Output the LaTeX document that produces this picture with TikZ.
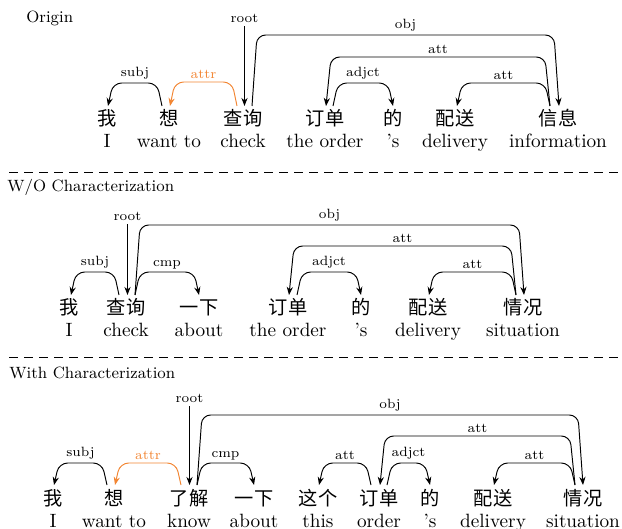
\documentclass[tikz,border=0pt]{standalone}
\usepackage{fontspec}
\newfontfamily\cjk{Noto Sans CJK SC}
\usetikzlibrary{arrows.meta,calc}
\definecolor{attrorange}{RGB}{242,133,50}

\tikzset{
  zh/.style={font=\cjk, anchor=base, inner sep=0pt},
  en/.style={anchor=base, inner sep=0pt},
  lab/.style={font=\scriptsize, above, inner sep=1.5pt},
  rootlab/.style={font=\scriptsize, inner sep=2pt},
  arc/.style={line width=0.5pt, rounded corners=4.5pt, -{Stealth[length=4.2pt,width=3.2pt]}},
  title/.style={font=\fontsize{8.5}{10}\selectfont, anchor=base west, inner sep=0pt},
  sep/.style={line width=0.5pt, dash pattern=on 4.7pt off 3.1pt}
}

% [opts]{head}{head shift}{dep}{dep shift}{height}{dir}{label}
\newcommand{\deparc}[8][]{%
  \draw[arc,#1] ($(#2.base)+(#3,-20)$) -- ($(#2.base)+({#3+5*(#7)},-#6)$)
    -- node[lab]{#8} ($(#4.base)+({#5-5*(#7)},-#6)$) -- ($(#4.base)+(#5,-20)$);}

\begin{document}
\begin{tikzpicture}[x=0.52pt,y=-0.52pt]
\useasboundingbox (0,0) rectangle (622,529);

% Origin
\node[title] (t1) at (26,23) {Origin};
\foreach \x/\zh/\en [count=\i] in {107/我/I, 169/想/want to, 243/查询/check, 325/订单/the order, 393/的/'s, 455/配送/delivery, 558/信息/information}{
  \node[zh] (o\i) at (\x,126) {\zh};
  \node[en] (oe\i) at (\x,148) {\en};
}
\node[rootlab] (or) at ($(o3.base)+(1.5,-108)$) {root};
\draw[arc] (or) -- ($(o3.base)+(1.5,-20)$);
\deparc{o2}{-7}{o1}{1}{43}{-1}{subj}
\deparc[attrorange]{o3}{-6}{o2}{1}{44}{-1}{attr}
\deparc{o3}{9}{o7}{1}{91}{1}{obj}
\deparc{o7}{-8}{o4}{1}{69}{-1}{att}
\deparc{o4}{8}{o5}{0}{43}{1}{adjct}
\deparc{o7}{-8}{o6}{2}{43}{-1}{att}

\draw[sep] (9,172.5) -- (618,172.5);

% W/O Characterization
\node[title] (t2) at (7,192) {W/O Characterization};
\foreach \x/\zh/\en [count=\i] in {69/我/I, 126/查询/check, 199/一下/about, 288/订单/the order, 361/的/'s, 428/配送/delivery, 523/情况/situation}{
  \node[zh] (n\i) at (\x,315) {\zh};
  \node[en] (ne\i) at (\x,337) {\en};
}
\node[rootlab] (nr) at ($(n2.base)+(1.5,-99)$) {root};
\draw[arc] (nr) -- ($(n2.base)+(1.5,-20)$);
\deparc{n2}{-7}{n1}{2}{43}{-1}{subj}
\deparc{n2}{9}{n3}{0}{43}{1}{cmp}
\deparc{n2}{9}{n7}{1}{90}{1}{obj}
\deparc{n7}{-7}{n4}{1}{69}{-1}{att}
\deparc{n4}{9}{n5}{0}{43}{1}{adjct}
\deparc{n7}{-7}{n6}{1}{43}{-1}{att}

\draw[sep] (9,357) -- (618,357);

% With Characterization
\node[title] (t3) at (9,378) {With Characterization};
\foreach \x/\zh/\en [count=\i] in {53/我/I, 114/想/want to, 189/了解/know, 254/一下/about, 318/这个/this, 379/订单/order, 430/的/'s, 493/配送/delivery, 583/情况/situation}{
  \node[zh] (c\i) at (\x,505) {\zh};
  \node[en] (ce\i) at (\x,527) {\en};
}
\node[rootlab] (cr) at ($(c3.base)+(0.5,-107)$) {root};
\draw[arc] (cr) -- ($(c3.base)+(0.5,-20)$);
\deparc{c2}{-7}{c1}{1}{42}{-1}{subj}
\deparc[attrorange]{c3}{-8}{c2}{1}{42}{-1}{attr}
\deparc{c3}{8}{c4}{0}{42}{1}{cmp}
\deparc{c3}{8}{c9}{0}{90}{1}{obj}
\deparc{c6}{-8}{c5}{1}{42}{-1}{att}
\deparc{c6}{8}{c7}{0}{42}{1}{adjct}
\deparc{c9}{-8}{c6}{1}{69}{-1}{att}
\deparc{c9}{-8}{c8}{1}{42}{-1}{att}
\end{tikzpicture}
\end{document}
